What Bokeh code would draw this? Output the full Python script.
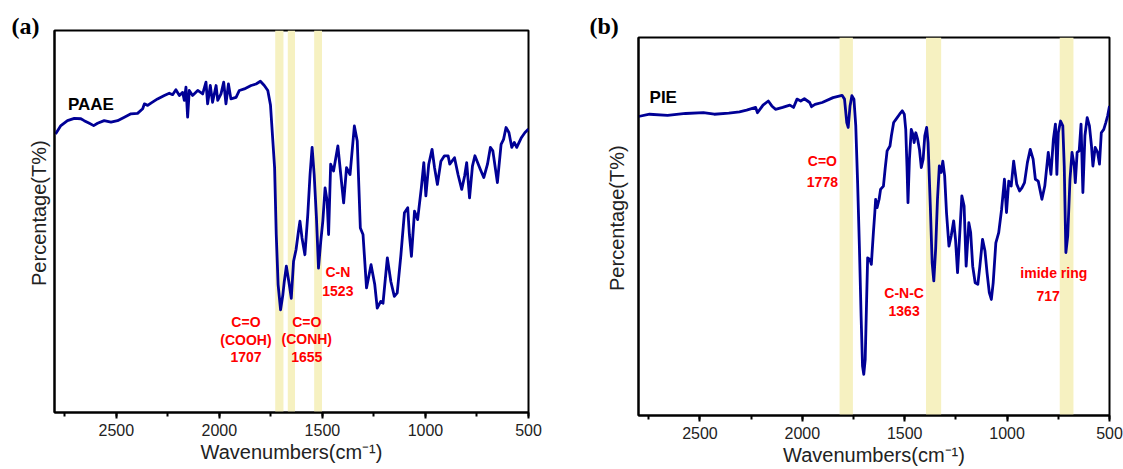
from bokeh.plotting import figure
from bokeh.layouts import row, column
from bokeh.models import Range1d, SingleIntervalTicker, FixedTicker, Label, Title, Spacer
from bokeh.embed import file_html
from bokeh.resources import INLINE

# ---------------- data ----------------
paae_wn = [2795, 2769, 2737, 2704, 2672, 2656, 2631, 2610, 2591, 2559,
           2526, 2494, 2461, 2429, 2397, 2372, 2364, 2348, 2332, 2300,
           2267, 2243, 2227, 2211, 2194, 2178, 2170, 2162, 2154, 2146,
           2130, 2105, 2081, 2065, 2057, 2044, 2033, 2016, 2008, 1992,
           1979, 1968, 1956, 1944, 1919, 1903, 1879, 1846, 1822, 1801,
           1782, 1765, 1752,
           1732, 1724, 1715,
           1703, 1692, 1685, 1675, 1663, 1651, 1640, 1628, 1616, 1609,
           1599, 1585, 1571, 1560, 1550, 1540, 1529, 1519, 1508, 1498,
           1487, 1477, 1470, 1460, 1446, 1425, 1411, 1397, 1383, 1366,
           1345, 1331, 1316, 1303, 1286, 1264, 1246, 1234, 1217, 1206,
           1185, 1168, 1151, 1137, 1119, 1102, 1086, 1078, 1068, 1053,
           1038, 1020, 1008, 998, 984, 968, 956, 942, 925, 908,
           890, 882, 859, 842, 824, 810, 800, 786, 772, 760,
           734, 717, 699, 685, 673, 651, 633, 621, 609, 595,
           581, 569, 557, 534, 517, 500]
paae_t = [72.9, 75.1, 76.4, 77.0, 76.9, 76.4, 75.7, 75.1, 75.7, 76.4,
          76.0, 76.4, 77.3, 78.2, 78.3, 79.5, 80.8, 80.4, 81.0, 82.1,
          83.0, 83.6, 83.2, 84.5, 83.0, 83.8, 81.7, 85.2, 77.3, 84.3,
          83.0, 84.3, 83.4, 86.5, 80.8, 85.6, 81.2, 85.6, 81.7, 83.4,
          86.5, 80.8, 86.0, 82.1, 82.5, 84.3, 84.7, 85.6, 86.0, 86.7,
          85.6, 84.3, 80.5,
          64.1, 46.6, 33.5,
          26.9, 30.8, 34.3, 38.3, 34.3, 29.9, 39.6, 42.6, 47.5, 50.1,
          45.7, 41.3, 51.8, 62.3, 69.4, 62.3, 51.0, 37.8, 44.8, 50.1,
          58.8, 55.3, 46.6, 65.0, 63.2, 69.8, 62.3, 54.9, 64.1, 62.3,
          75.0, 71.1, 48.3, 46.6, 32.6, 38.7, 33.5, 27.3, 29.1, 28.6,
          40.5, 34.3, 30.4, 31.3, 41.3, 52.3, 53.6, 46.6, 40.9, 52.7,
          50.5, 58.8, 65.4, 56.7, 65.0, 68.9, 64.1, 59.7, 65.8, 67.2,
          67.2, 65.0, 66.7, 62.3, 58.4, 61.9, 65.4, 56.2, 64.5, 67.2,
          63.7, 61.5, 65.0, 69.4, 68.5, 60.2, 70.2, 71.5, 74.6, 73.3,
          69.4, 70.7, 69.4, 72.0, 73.3, 74.2]

pie_wn = [2800, 2746, 2658, 2570, 2483, 2430, 2359, 2307, 2272, 2228,
          2219, 2192, 2166, 2149, 2131, 2096, 2061, 2043, 2026, 2008,
          1990, 1964, 1955, 1938, 1903, 1850, 1806, 1794, 1783, 1776,
          1767, 1758, 1748, 1739, 1730, 1721, 1713, 1706, 1700, 1693,
          1686, 1681, 1670, 1663, 1653, 1646, 1642, 1635, 1625, 1618,
          1604, 1595, 1586, 1572, 1565, 1554, 1542, 1525, 1512, 1502,
          1495, 1489, 1484, 1477, 1468, 1460, 1454, 1446, 1437, 1428,
          1419, 1410, 1402, 1393, 1386, 1375, 1366, 1358, 1349, 1340,
          1331, 1322, 1314, 1305, 1296, 1284, 1273, 1261, 1252, 1242,
          1231, 1221, 1210, 1200, 1187, 1178, 1168, 1156, 1143, 1133,
          1120, 1108, 1098, 1087, 1077, 1068, 1055, 1041, 1027, 1013,
          1003, 992, 980, 968, 953, 939, 927, 915, 901, 887,
          873, 862, 848, 830, 816, 799, 786, 774, 764, 757,
          750, 739, 728, 721, 713, 704, 693, 683, 672, 667,
          658, 648, 639, 630, 620, 609, 598, 588, 581, 570,
          558, 549, 540, 528, 518, 509, 500]
pie_t = [79.1, 79.7, 79.4, 79.9, 80.1, 79.7, 80.0, 80.3, 80.8, 81.5,
         80.1, 82.1, 83.2, 81.9, 81.0, 81.5, 82.1, 81.5, 83.7, 83.2,
         83.8, 82.8, 81.7, 82.3, 82.8, 84.1, 84.7, 83.7, 77.5, 76.2,
         81.9, 84.6, 83.7, 76.6, 61.6, 44.0, 26.3, 13.1, 10.9, 14.8,
         30.7, 41.7, 41.3, 40.0, 48.4, 53.7, 57.2, 55.0, 57.2, 59.8,
         60.7, 65.6, 70.0, 71.3, 74.0, 77.5, 78.4, 79.7, 80.6, 79.7,
         75.7, 66.0, 56.3, 67.8, 75.7, 74.4, 72.2, 74.8, 73.1, 70.4,
         65.6, 67.8, 74.0, 76.2, 72.2, 55.4, 40.4, 35.6, 44.0, 57.2,
         66.0, 64.3, 67.3, 63.4, 53.7, 44.8, 47.5, 51.5, 46.6, 37.8,
         48.4, 58.1, 55.4, 39.5, 51.0, 48.4, 39.5, 35.1, 34.7, 39.5,
         46.6, 43.5, 37.8, 32.5, 30.7, 35.1, 45.7, 48.4, 54.5, 62.5,
         53.7, 62.0, 60.7, 67.3, 61.2, 59.4, 60.3, 61.6, 66.9, 70.4,
         67.8, 62.5, 62.0, 57.2, 60.7, 69.6, 63.8, 73.1, 77.1, 63.8,
         74.8, 77.9, 76.6, 66.0, 43.1, 47.5, 62.5, 69.6, 66.0, 61.6,
         69.6, 70.0, 77.1, 59.0, 74.0, 78.8, 76.6, 71.3, 66.0, 70.9,
         69.6, 66.5, 74.8, 75.7, 77.5, 79.3, 81.9]

# highlighted bands (wavenumber limits)
paae_band_lo = [1689, 1633, 1502]
paae_band_hi = [1729, 1668, 1540]
pie_band_lo = [1753, 1322, 676]
pie_band_hi = [1818, 1396, 743]

# peak annotations: text lines, x (wavenumber), y (T%)
paae_ann_text = ["C=O", "(COOH)", "1707", "C=O", "(CONH)", "1655", "C-N", "1523"]
paae_ann_x = [1871, 1871, 1871, 1576, 1576, 1576, 1425, 1425]
paae_ann_y = [23.6, 19.0, 14.6, 23.8, 19.3, 14.6, 36.8, 31.9]
pie_ann_text = ["C=O", "1778", "C-N-C", "1363", "imide ring", "717"]
pie_ann_x = [1902, 1902, 1503, 1503, 772, 800]
pie_ann_y = [67.2, 61.8, 32.5, 27.6, 37.8, 31.6]

x_min, x_max = 500, 2800
tick_step = 500

LINE = "#000096"
BAND = "#f6f1c1"
FONT = "Liberation Sans"
NBSP = "\u00a0"


def make_panel(wn, t, blo, bhi, ann_text, ann_x, ann_y, name, name_x, name_y,
               letter, letter_off, letter_standoff,
               fw, fh, bl, br, bt, bb, ylab_standoff):
    title = Title(text=letter, align="left", offset=letter_off,
                  standoff=letter_standoff,
                  text_font="Liberation Serif", text_font_style="bold",
                  text_font_size="24px", text_color="black")
    p = figure(output_backend="svg", toolbar_location=None, title=title,
               frame_width=fw, frame_height=fh,
               min_border_left=bl, min_border_right=br,
               min_border_top=bt, min_border_bottom=bb,
               x_range=Range1d(x_max, x_min), y_range=Range1d(0, 100))
    p.background_fill_color = "white"
    p.border_fill_color = "white"
    p.outline_line_color = "black"
    p.outline_line_width = 2
    p.xgrid.visible = False
    p.ygrid.visible = False

    p.quad(left=blo, right=bhi, bottom=0, top=100,
           fill_color=BAND, line_color=None)
    p.line(wn, t, line_color=LINE, line_width=2.8, line_join="round")

    for s, x, y in zip(ann_text, ann_x, ann_y):
        p.add_layout(Label(x=x, y=y, text=s, text_align="center",
                           text_baseline="middle", text_color="#ff0000",
                           text_font=FONT, text_font_style="bold",
                           text_font_size="14px"))
    p.add_layout(Label(x=name_x, y=name_y, text=name, text_align="left",
                       text_baseline="middle", text_color="black",
                       text_font=FONT, text_font_style="bold",
                       text_font_size="17px"))

    xa = p.xaxis[0]
    xa.ticker = SingleIntervalTicker(interval=tick_step, num_minor_ticks=2)
    xa.axis_line_width = 2
    xa.major_tick_line_width = 2
    xa.minor_tick_line_width = 2
    xa.major_tick_in = 0
    xa.major_tick_out = 6
    xa.minor_tick_in = 0
    xa.minor_tick_out = 4
    xa.major_label_standoff = 5
    xa.major_label_text_font = FONT
    xa.major_label_text_font_size = "16px"
    xa.major_label_text_color = "#222222"
    xa.axis_label = "Wavenumbers(cm\u207b\u00b9)"
    xa.axis_label_text_font = FONT
    xa.axis_label_text_font_size = "20px"
    xa.axis_label_text_font_style = "normal"
    xa.axis_label_text_color = "#222222"
    xa.axis_label_standoff = 2

    ya = p.yaxis[0]
    ya.ticker = FixedTicker(ticks=[])
    ya.axis_line_width = 2
    ya.axis_label = NBSP * 3 + "Percentage(T%)"
    ya.axis_label_text_font = FONT
    ya.axis_label_text_font_size = "20px"
    ya.axis_label_text_font_style = "normal"
    ya.axis_label_text_color = "#222222"
    ya.axis_label_standoff = ylab_standoff
    return p


pa = make_panel(paae_wn, paae_t, paae_band_lo, paae_band_hi,
                paae_ann_text, paae_ann_x, paae_ann_y,
                "PAAE", 2735, 80.7, "(a)", -43, -16,
                474, 382, 54, 52, 30, 57, 5)
pb = make_panel(pie_wn, pie_t, pie_band_lo, pie_band_hi,
                pie_ann_text, pie_ann_x, pie_ann_y,
                "PIE", 2746, 84.1, "(b)", -49, -2,
                471, 378, 58, 14, 30, 54, 11)

layout = row(pa, column(Spacer(width=10, height=7), pb))
open("out.html", "w").write(file_html(layout, INLINE))
